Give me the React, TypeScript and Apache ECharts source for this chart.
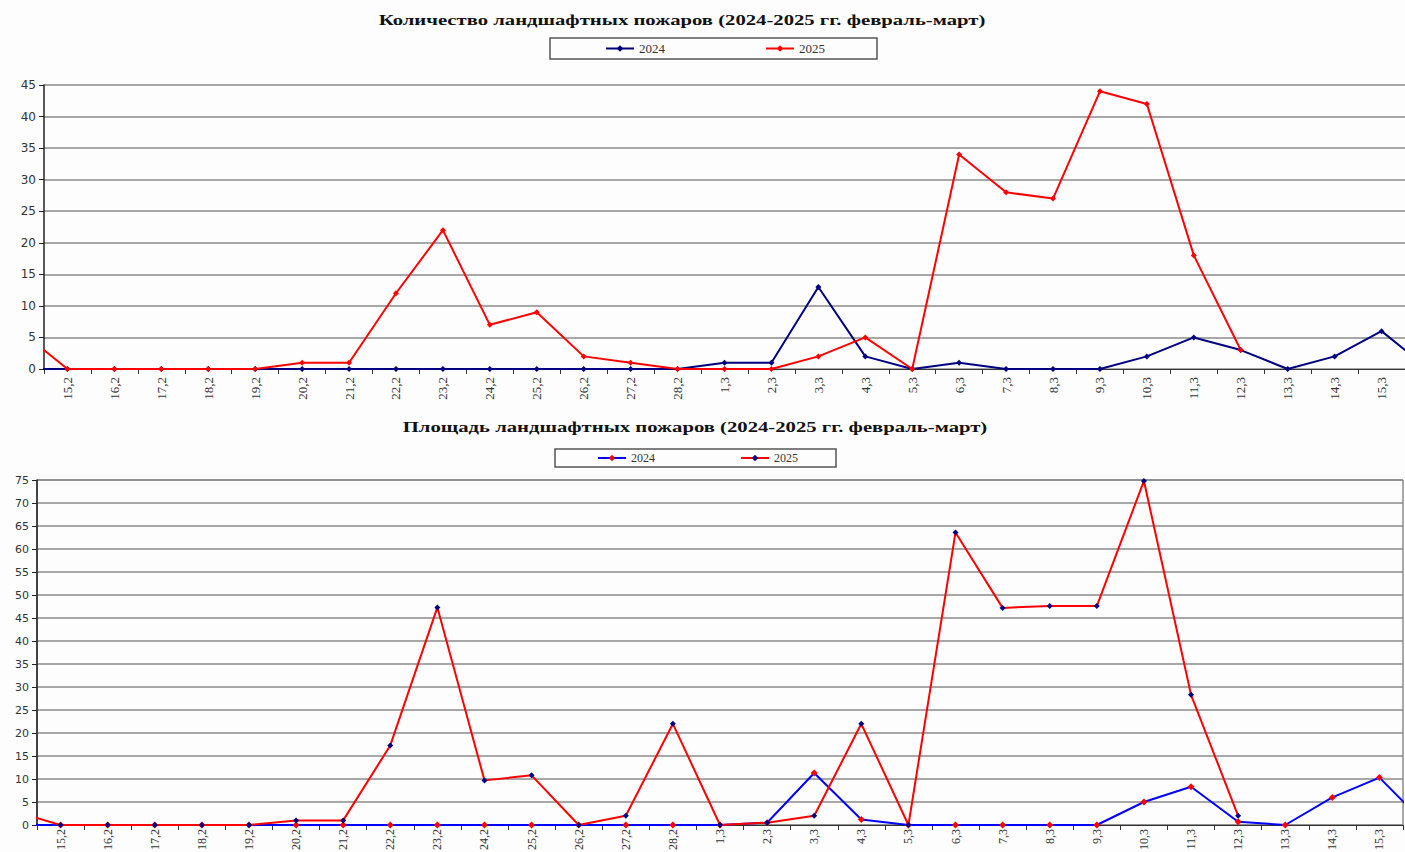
import React, { useEffect, useRef } from "react";
import * as echarts from "echarts";

const categories = [
  "14,2", "15,2", "16,2", "17,2", "18,2", "19,2", "20,2", "21,2", "22,2", "23,2", "24,2",
  "25,2", "26,2", "27,2", "28,2", "1,3", "2,3", "3,3", "4,3", "5,3", "6,3", "7,3", "8,3",
  "9,3", "10,3", "11,3", "12,3", "13,3", "14,3", "15,3", "16,3",
];

const title1 = "Количество ландшафтных пожаров (2024-2025 гг. февраль-март)";
const title2 = "Площадь ландшафтных пожаров (2024-2025 гг. февраль-март)";

// Fire counts
const count2024 = [0, 0, 0, 0, 0, 0, 0, 0, 0, 0, 0, 0, 0, 0, 0, 1, 1, 13, 2, 0, 1, 0, 0, 0, 2, 5, 3, 0, 2, 6, 0];
const count2025 = [6, 0, 0, 0, 0, 0, 1, 1, 12, 22, 7, 9, 2, 1, 0, 0, 0, 2, 5, 0, 34, 28, 27, 44, 42, 18, 3, null, null, null, null];

// Fire area
const area2024 = [0, 0, 0, 0, 0, 0, 0, 0, 0, 0, 0, 0, 0, 0, 0, 0, 0.5, 11.3, 1.2, 0, 0, 0, 0, 0, 5, 8.3, 0.7, 0, 6, 10.3, 0];
const area2025 = [3, 0, 0, 0, 0, 0, 1, 1, 17.3, 47.3, 9.7, 10.8, 0, 2, 22, 0, 0.5, 2, 22, 0, 63.6, 47.2, 47.6, 47.6, 74.8, 28.3, 2, null, null, null, null];

const yTicks1 = { min: 0, max: 45, interval: 5 };
const yTicks2 = { min: 0, max: 75, interval: 5 };

const toPairs = (arr: (number | null)[]) =>
  arr.map((v, i) => (v === null ? null : [i, v])).filter((p) => p !== null);

const visibleCats = categories.slice(1, categories.length - 1);

export default function App() {
  const ref = useRef<HTMLDivElement>(null);
  useEffect(() => {
    document.body.style.margin = "0";
    const chart = echarts.init(ref.current!, null, { renderer: "svg" });
    const serif = "'Liberation Serif', 'Times New Roman', serif";
    const sans = "'DejaVu Sans', Verdana, sans-serif";
    const catAxis = (gridIndex: number, fs: number, margin: number) => ({
      type: "category",
      gridIndex,
      data: visibleCats,
      boundaryGap: true,
      position: "bottom",
      axisLine: { show: true, lineStyle: { color: "#333", width: 1 } },
      axisTick: { show: true, interval: 0, length: 5, lineStyle: { color: "#333" } },
      axisLabel: {
        interval: 0,
        rotate: 90,
        fontFamily: serif,
        fontSize: fs,
        color: "#333",
        margin,
      },
      splitLine: { show: false },
    });
    const valAxis = (gridIndex: number) => ({
      type: "value",
      gridIndex,
      min: 0.5,
      max: categories.length - 1.5,
      show: false,
      splitLine: { show: false },
    });
    const yAxis = (gridIndex: number, t: any, fs: number) => ({
      type: "value",
      gridIndex,
      min: t.min,
      max: t.max,
      interval: t.interval,
      axisLine: { show: true, lineStyle: { color: "#222", width: 1.5 } },
      axisTick: { show: true, length: 5, lineStyle: { color: "#222" } },
      axisLabel: { fontFamily: sans, fontSize: fs, color: "#333", margin: 8 },
      splitLine: { show: true, lineStyle: { color: "#8a8a8a", width: 1.5 } },
    });
    const mkSeries = (
      name: string,
      data: (number | null)[],
      xAxisIndex: number,
      yAxisIndex: number,
      lineColor: string,
      markColor: string,
      size: number
    ) => ({
      name,
      type: "line",
      xAxisIndex,
      yAxisIndex,
      data: toPairs(data),
      symbol: "diamond",
      symbolSize: size,
      showSymbol: true,
      lineStyle: { color: lineColor, width: 2 },
      itemStyle: { color: markColor },
      clip: true,
    });
    const fmt = (n: string) => n.replace(/^.*-/, "");
    chart.setOption({
      animation: false,
      backgroundColor: "#fdfdfd",
      graphic: [
        {
          type: "text",
          x: 682,
          y: 20,
          scaleX: 1.38,
          style: {
            text: title1,
            font: `bold 15px ${serif}`,
            fill: "#111",
            textAlign: "center",
            textVerticalAlign: "middle",
          },
        },
        {
          type: "text",
          x: 695,
          y: 427,
          scaleX: 1.38,
          style: {
            text: title2,
            font: `bold 15px ${serif}`,
            fill: "#111",
            textAlign: "center",
            textVerticalAlign: "middle",
          },
        },
      ],
      legend: [
        {
          left: 550,
          top: 38,
          data: ["count-2024", "count-2025"],
          formatter: fmt,
          borderColor: "#555",
          borderWidth: 1.5,
          padding: [4, 52, 4, 55],
          itemGap: 100,
          itemWidth: 28,
          itemHeight: 8,
          textStyle: { fontFamily: serif, fontSize: 13, color: "#333" },
        },
        {
          left: 555,
          top: 449,
          data: ["area-2024", "area-2025"],
          formatter: fmt,
          borderColor: "#555",
          borderWidth: 1.5,
          padding: [3, 38, 3, 42],
          itemGap: 85,
          itemWidth: 28,
          itemHeight: 8,
          textStyle: { fontFamily: serif, fontSize: 12, color: "#333" },
        },
      ],
      grid: [
        { left: 44, right: 0, top: 85, bottom: 852 - 369, outerBoundsMode: "none", containLabel: false },
        {
          left: 37,
          right: 2,
          top: 480,
          bottom: 852 - 825,
          outerBoundsMode: "none",
          containLabel: false,
          show: true,
          borderColor: "#555",
          borderWidth: 1,
          backgroundColor: "transparent",
        },
      ],
      xAxis: [valAxis(0), catAxis(0, 13, 8), valAxis(1), catAxis(1, 12, 4)],
      yAxis: [yAxis(0, yTicks1, 12), yAxis(1, yTicks2, 11)],
      series: [
        mkSeries("count-2024", count2024, 0, 0, "#000080", "#000080", 6),
        mkSeries("count-2025", count2025, 0, 0, "#ff0000", "#ff0000", 6),
        mkSeries("area-2024", area2024, 2, 1, "#0000ff", "#ff0000", 7),
        mkSeries("area-2025", area2025, 2, 1, "#ff0000", "#000080", 6),
      ],
    });
    return () => chart.dispose();
  }, []);
  return <div ref={ref} style={{ width: 1405, height: 852 }} />;
}
